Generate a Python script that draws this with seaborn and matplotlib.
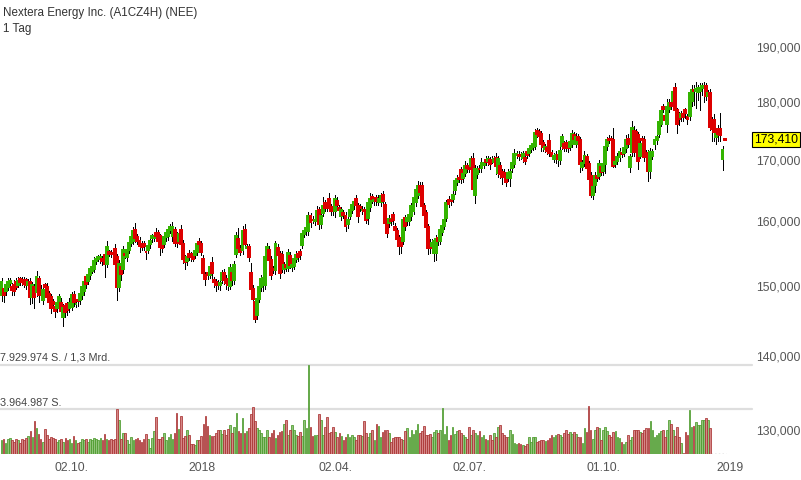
import numpy as np
import pandas as pd
import matplotlib
matplotlib.use("Agg")
import matplotlib.pyplot as plt
import matplotlib.transforms as mtransforms
from matplotlib.ticker import FixedLocator, NullLocator
import seaborn as sns

# ---------------- data ----------------
title = "Nextera Energy Inc. (A1CZ4H) (NEE)"
subtitle = "1 Tag"

opens = [
    148.6,149.6,149.2,149.8,150.4,149.9,150.1,150.6,150.2,151.0,
    150.9,150.9,150.9,150.1,150.6,148.3,149.9,149.1,151.1,149.4,
    148.0,150.1,149.9,148.8,148.3,147.7,146.9,146.8,147.7,147.5,
    145.5,147.0,147.3,146.8,146.9,148.6,147.3,148.0,147.9,148.6,
    149.2,151.3,150.8,151.6,152.3,152.6,153.8,154.1,154.1,154.1,
    154.6,153.3,155.1,154.9,155.0,155.6,154.3,149.8,152.9,152.6,
    154.9,154.4,155.5,156.6,156.9,158.6,157.4,156.9,156.4,156.4,
    155.2,155.5,156.3,157.3,157.3,158.1,158.1,157.6,156.9,156.4,
    157.4,157.6,158.6,157.6,158.6,157.6,156.9,158.5,156.4,154.1,
    153.8,154.9,154.8,154.9,154.7,155.2,156.7,156.4,154.1,151.6,
    151.9,151.7,153.5,150.9,150.6,150.5,150.1,150.9,152.0,151.1,
    150.5,150.0,151.9,150.9,154.9,157.2,155.6,155.4,158.6,155.7,
    155.9,151.9,149.6,147.6,145.8,148.1,149.9,150.1,150.1,154.6,
    155.4,153.9,152.5,152.4,155.7,154.8,154.7,152.6,153.2,152.7,
    154.5,152.9,153.0,154.1,154.8,155.1,156.2,157.9,158.4,158.4,
    160.8,160.2,160.0,160.0,161.7,159.5,161.3,162.8,162.2,163.5,
    162.2,161.8,161.5,163.2,162.0,160.8,161.2,160.8,159.5,160.8,
    161.8,162.5,163.5,162.3,162.2,161.7,161.7,161.2,160.5,162.2,
    163.8,163.1,163.6,163.0,163.0,164.2,162.5,159.9,159.6,160.2,
    160.9,159.1,158.4,157.3,157.3,156.8,160.5,159.9,159.9,160.7,
    161.6,163.0,164.1,165.7,165.7,162.3,161.2,159.0,156.6,156.1,
    155.0,155.0,157.3,156.9,158.3,159.2,160.5,163.4,163.3,163.5,
    164.9,166.3,166.9,168.2,166.9,167.8,169.0,168.7,168.9,170.1,
    164.2,167.6,168.5,168.6,169.1,170.0,169.7,169.9,170.0,169.6,
    170.2,167.8,169.0,167.9,167.8,166.8,166.9,166.9,168.6,169.3,
    170.8,170.8,170.8,170.2,170.2,171.3,171.2,171.8,172.2,172.4,
    174.9,174.8,174.3,172.8,171.8,171.9,173.2,171.2,170.1,170.1,
    170.8,170.0,172.4,172.7,172.8,172.2,172.2,172.7,174.2,172.7,
    173.8,173.3,168.8,169.4,170.4,169.2,167.3,164.2,165.8,167.3,
    167.3,168.7,168.1,169.3,172.3,173.6,173.6,173.4,169.3,169.7,
    170.4,171.1,171.1,171.9,173.6,168.8,171.3,174.9,174.7,174.2,
    170.7,173.6,173.4,171.1,171.0,168.1,170.7,172.6,173.3,174.3,
    176.2,179.05,177.6,176.2,178.8,179.9,180.2,182.5,178.5,177.6,
    177.4,177.9,178.5,177.4,177.6,180.2,182.2,182.0,181.8,182.0,
    182.5,182.5,182.8,181.1,181.6,176.75,176.75,173.9,175.3,175.3,
    170.1,173.45,
]
closes = [
    150.6,148.6,150.1,150.6,150.8,149.4,149.3,149.9,150.8,150.6,
    150.6,150.3,150.2,150.6,148.3,150.1,148.3,151.4,148.6,148.7,
    149.4,149.9,148.3,147.7,146.7,147.3,146.3,147.5,148.3,146.3,
    146.8,146.2,146.5,147.5,148.6,147.6,147.4,147.8,148.8,149.8,
    150.6,150.3,151.6,152.6,152.8,153.8,154.1,154.3,154.3,153.8,
    153.3,155.9,154.9,154.8,154.9,153.3,149.8,153.3,151.8,155.5,
    154.7,155.4,156.6,157.4,158.4,157.3,156.9,156.0,155.9,156.1,
    155.1,156.0,156.9,157.6,157.6,157.6,156.9,155.9,155.7,157.4,
    158.1,158.6,159.0,159.1,156.6,156.5,157.9,156.4,154.1,153.6,
    154.3,154.4,154.4,154.1,155.3,156.3,156.3,155.2,151.9,151.0,
    151.6,152.9,151.9,150.6,150.2,150.1,150.5,151.9,150.9,150.4,
    150.1,152.7,150.9,153.1,157.6,155.7,155.2,158.4,156.3,155.9,
    154.3,149.6,148.1,145.1,148.1,149.9,151.1,151.2,154.4,155.9,
    153.9,151.7,152.4,156.3,154.7,151.9,152.6,153.2,152.9,155.0,
    153.2,153.1,154.1,154.7,154.4,154.7,157.9,158.4,158.9,160.8,
    159.8,160.1,160.2,161.6,159.5,160.8,162.3,162.1,162.1,162.2,
    161.6,161.5,163.5,162.5,161.8,161.7,161.0,159.2,160.2,161.7,
    162.5,163.0,162.5,160.7,162.1,161.8,161.6,160.2,162.8,163.5,
    163.5,163.3,163.2,163.5,164.0,163.2,159.7,158.1,160.3,159.9,
    160.1,158.6,157.2,156.0,156.0,160.1,159.2,160.5,161.0,162.3,
    163.6,164.9,165.6,164.6,162.4,161.0,159.1,155.8,155.7,156.6,
    156.8,157.2,156.8,158.5,159.2,160.2,162.8,162.7,163.1,164.2,
    166.4,166.8,166.8,166.7,167.6,169.0,168.6,168.5,170.1,165.2,
    168.5,168.5,168.4,169.5,169.5,169.6,170.1,169.3,169.9,170.1,
    169.0,170.1,167.6,167.1,167.1,166.3,167.8,167.9,169.5,171.0,
    171.0,170.6,170.6,171.0,169.85,170.8,171.8,172.3,172.6,174.6,
    174.4,174.1,172.6,172.1,172.1,171.5,171.2,170.7,170.6,170.8,
    170.1,171.5,173.8,172.0,172.2,171.9,173.0,174.45,173.6,173.9,
    173.4,169.2,169.4,170.7,168.6,166.7,164.2,165.4,167.3,167.0,
    169.3,168.0,169.2,172.2,173.3,173.3,173.4,169.0,169.6,170.5,
    171.3,170.9,171.9,173.4,172.6,170.5,175.5,171.3,173.9,169.85,
    172.7,173.3,170.4,170.4,168.1,171.3,171.3,173.4,173.9,176.5,
    178.4,178.8,176.75,179.05,179.9,179.3,181.8,178.6,176.2,177.0,
    177.9,177.4,178.0,177.0,181.6,182.2,181.9,182.4,182.5,182.6,
    182.8,182.8,181.1,181.6,175.6,175.3,174.7,174.45,174.45,174.2,
    171.7,173.41,
]
# wick lengths above / below the candle body (price units)
wick_up = [
    .6,.5,.7,.6,.4,.5,.8,.6,.5,.4, .4,.5,.3,.5,.6,.5,.4,.8,.4,.7,
    .5,.4,.6,.5,.5,.4,.4,.6,.5,.7, .6,.5,.4,.7,.5,.6,.4,.6,.5,.6,
    .4,.5,.5,.4,.5,.5,.4,.4,.5,.4, .7,.9,.4,.5,.5,.8,.5,.6,.5,.6,
    .4,.5,.6,.5,.7,1.1,.6,.5,.5,.5, .6,.5,.5,.4,.5,.7,.5,.4,.6,.5,
    .5,.6,.5,.7,.5,.6,.5,.8,.6,.5, .5,.5,.4,.5,.4,.5,.6,.4,.6,.5,
    .5,.6,.8,.5,.5,.4,.5,.5,.6,.5, .4,.6,.5,.6,.7,1.6,.6,.8,.9,.5,
    .5,1.5,.5,.6,.6,.8,.6,.6,.7,.6, .7,.6,.5,.5,.6,.5,.6,.4,.5,.6,
    .6,.5,.5,.6,.5,.5,.6,.5,.5,.6, .5,.6,.5,.7,.5,.5,1.6,.6,.5,1.0,
    .5,.5,.6,.6,.6,.5,.5,.6,.5,.5, .5,.5,.6,.6,.5,.5,.5,.5,.6,1.0,
    .5,.5,.5,.6,.5,.6,.5,.6,.6,.5, .5,.6,.5,.5,.6,.5,.5,.5,.6,.5,
    .5,.7,.8,.6,.6,.5,.6,.5,.6,.5, .5,.6,.5,.5,.6,.5,.5,.6,.5,.6,
    .5,.6,.8,.5,.6,.7,.5,.6,.6,1.1, .6,.5,.6,.7,.5,.6,.6,.5,.6,.5,
    1.0,.5,.6,.5,.6,.5,.6,.5,.6,.8, .5,.6,.5,.5,.5,.6,.5,.5,.6,.6,
    .5,.5,.6,.5,.5,.5,1.1,.5,.5,.6, .5,.6,.6,.5,.5,.6,.5,.6,.5,.6,
    .5,.5,.6,.7,.5,.6,.6,.5,.6,.5, .6,.5,.6,.8,.5,.6,.5,2.0,.5,.6,
    .6,.5,.6,.8,.7,.5,1.1,.9,.6,.5, .6,.5,.6,.5,.6,.6,.5,.6,.5,.6,
    .7,.6,.5,1.5,.6,.5,.8,1.0,.5,.6, .5,.6,.5,.5,.6,.9,.8,1.2,.6,.8,
    .6,.8,.6,.6,.8,.6,1.2,.7,.6,2.7, .6,0.0,
]
wick_dn = [
    .8,.9,.5,.4,.5,.7,.6,.4,.3,.5, .4,.5,.6,.5,.9,.8,1.6,.6,.9,.8,
    .6,.5,.6,.7,.6,.5,.9,.6,.5,.8, 1.3,.7,.8,.6,.5,.5,.4,.7,.6,.5,
    .6,.6,.5,.6,.4,.5,.5,.4,.6,.6, 1.9,.5,.4,.5,.6,.5,1.8,.6,.9,.6,
    .5,.6,.5,.6,.5,.6,.5,.8,.5,.6, 1.1,.5,.5,.6,.5,.6,.7,1.3,.6,.5,
    .5,.6,.5,.8,.6,.6,.5,.8,.7,1.0, .6,.5,.6,.4,.5,.6,.5,.6,.8,.9,
    .6,.5,.7,.8,1.0,.6,.7,.5,.6,.9, .7,.5,.8,.6,.5,.5,.6,.5,.6,.5,
    .6,.6,.7,.4,.6,.5,.6,.8,.6,.7, .6,.6,.5,.6,.5,.7,.5,.6,.7,.5,
    .5,.6,.5,.5,.6,.6,.5,.5,.6,.6, .7,.5,.6,.5,.8,.6,.5,.6,.5,.6,
    .6,.5,.9,.6,.5,.7,.6,.8,.6,.5, .5,.6,.6,.9,.5,.6,.5,.6,1.0,.6,
    .6,.5,.6,.5,.6,.5,.6,.7,.5,.6, .6,.6,.5,1.1,1.0,.5,.7,.6,.5,.6,
    .5,.6,.5,.6,.7,.6,.5,1.0,.7,.6, 1.2,1.1,.6,.5,.6,.5,.6,.5,.6,.5,
    .6,.5,.5,.6,.7,.5,.6,.5,.5,.5, 1.4,.6,.5,.6,.5,.5,.6,.8,.5,.6,
    1.4,.7,.6,1.2,.6,.6,.5,1.2,.6,.5, .5,.6,.5,.6,.5,.5,.6,.5,.5,.6,
    .6,.5,1.1,.6,.5,.6,.6,.6,.5,.6, 1.2,.8,.6,.6,.8,.6,.5,.6,.6,.5,
    .6,1.3,.6,.5,.8,.8,.4,.7,1.2,.6, .6,.6,.6,1.6,.6,.5,.5,.3,.6,.5,
    .6,.5,.5,.6,.5,.8,.6,.6,.5,1.4, .5,.6,.6,.6,1.7,1.2,.6,.8,.6,.5,
    .5,.6,.6,1.4,.5,.5,.6,.5,1.7,1.1, .8,.8,.9,.9,.8,1.0,2.5,3.0,1.5,3.5,
    1.2,2.5,.8,1.4,.6,2.2,1.5,1.2,1.2,1.0, 1.9,0.0,
]
# volume in millions of shares (available for the first candles only)
volume_m = [
    1.2,1.3,1.0,1.3,1.4,1.2,1.1,1.3,1.2,1.0, 1.3,1.2,1.4,1.6,2.0,1.5,2.9,2.3,1.8,1.3,
    1.1,2.2,1.7,1.3,1.5,1.4,1.3,1.1,1.2,1.3, 1.1,1.4,1.2,1.3,1.0,1.6,1.2,1.0,1.1,1.3,
    1.2,1.3,1.1,1.3,1.2,1.4,1.3,1.2,1.4,1.2, 1.8,1.3,1.2,1.3,1.2,1.3,4.0,3.0,1.3,1.9,
    1.9,1.2,0.9,1.5,1.2,1.3,1.4,1.2,1.1,1.3, 1.8,1.3,0.5,1.4,2.0,3.3,1.3,1.3,1.5,1.9,
    1.2,1.5,1.8,1.3,1.9,3.6,2.2,3.4,1.4,1.6, 2.1,1.7,0.9,0.9,0.8,1.2,1.2,1.6,2.7,3.4,
    2.5,1.7,1.6,1.6,1.9,2.1,2.1,1.8,2.1,1.7, 2.2,2.6,1.9,2.4,3.6,2.0,1.9,3.2,1.9,2.0,
    2.3,3.5,4.2,2.9,2.3,
    2.11,1.82,1.53,1.53,2.11,1.53,1.82,2.11,1.38,1.67, 1.97,2.06,2.70,3.05,1.67,2.11,2.56,2.11,1.67,1.59,
    1.97,1.59,3.00,2.26,7.929974,2.35,1.59,1.67,1.67,3.52, 3.05,1.67,2.35,3.29,1.88,1.97,2.35,1.97,1.53,1.82,
    1.59,1.23,1.53,1.76,1.53,1.67,1.53,1.23,1.67,1.67, 1.59,2.91,1.82,1.53,1.82,2.11,1.23,2.64,2.47,1.47,
    1.97,2.17,2.17,1.88,1.09,1.38,1.47,1.47,1.47,1.29, 1.23,2.06,2.26,1.53,2.11,1.76,2.17,2.64,1.88,2.06,
    2.47,1.67,1.67,1.76,1.53,1.97,2.11,1.82,2.17,4.11, 1.76,2.47,1.23,1.67,2.35,1.76,2.06,2.17,1.88,1.67,
    1.47,1.29,2.35,1.67,2.17,1.82,1.67,2.06,1.53,1.67, 1.29,1.23,1.67,1.23,1.82,1.53,2.35,2.61,1.88,1.67,
    1.53,1.47,2.11,1.76,1.00,0.88,0.94,
    0.88,0.79,0.70,0.88,
    1.53,1.09,1.53,1.53,1.09,1.17,1.23,1.23,1.17,1.23, 1.38,1.67,1.47,1.67,1.76,1.67,1.53,1.88,2.17,1.76,
    1.97,1.76,1.97,1.76,1.53,1.47,1.00,2.26,1.97,4.23, 2.17,1.29,2.11,2.35,2.26,1.23,2.17,2.35,2.06,1.67,
    1.47,1.97,2.06,1.53,1.38,1.09,0.88,1.09,1.67,1.23, 1.47,2.17,2.11,2.11,1.97,1.82,2.17,2.26,2.26,2.94,
    2.17,1.53,1.67,1.82,2.06,2.11,1.53,2.11,3.05,2.70, 2.17,1.59,2.35,1.53,1.00,0.06,1.97,1.67,3.94,
    2.35,2.47,2.85,2.56,2.56,3.00,3.00,3.23,3.00,2.26,
]
vol_max_label = "7.929.974 S. / 1,3 Mrd."
vol_half_label = "3.964.987 S."
vol_grid = [3.964987, 7.929974]
price_ticks = [130, 140, 150, 160, 170, 180, 190]
x_tick_labels = ["02.10.", "2018", "02.04.", "02.07.", "01.10.", "2019"]
x_tick_pos = [34.1, 97.2, 161.9, 227.4, 292.2, 353.7]
last_price = 173.41

# ---------------- frame ----------------
n = len(opens)
idx = np.arange(n)
df = pd.DataFrame({"i": idx, "open": opens, "close": closes,
                   "up": wick_up, "dn": wick_dn})
df["high"] = df[["open", "close"]].max(axis=1) + df["up"]
df["low"] = df[["open", "close"]].min(axis=1) - df["dn"]
df["dir"] = np.where(df["close"] >= df["open"], "up", "down")

vdf = pd.DataFrame({"i": idx[:len(volume_m)], "vol": volume_m,
                    "dir": df["dir"].values[:len(volume_m)]})

# ---------------- style ----------------
sns.set_theme(style="white")
plt.rcParams["font.family"] = ["Liberation Sans", "DejaVu Sans"]

W, H = 801, 480
fig = plt.figure(figsize=(W / 100, H / 100), dpi=100)
fig.patch.set_facecolor("white")

PX0, PXW = 0.0, 745.0          # axes left / width in px
step = 2.06                    # px per candle
first = 1.5                    # px of first candle
xlo = (PX0 - first) / step
xhi = (PX0 + PXW - first) / step

top_px, bot_px = 30.0, 455.0
ax = fig.add_axes([PX0 / W, 1 - bot_px / H, PXW / W, (bot_px - top_px) / H])
ax.set_facecolor("none")
k = 1009.0
p_hi = 180 * np.exp((102 - top_px) / k)
p_lo = 180 * np.exp((102 - bot_px) / k)

GREEN = "#33b400"
RED = "#dd0000"
colors = np.where(df["dir"] == "up", GREEN, RED)

ax.vlines(df["i"], df["low"], df["high"], colors="black", linewidth=0.6,
          zorder=1, antialiased=False)
body_lo = df[["open", "close"]].min(axis=1)
body_h = (df["close"] - df["open"]).abs()
ax.bar(df["i"], body_h, bottom=body_lo, width=0.95, color=colors,
       edgecolor=colors, linewidth=0.3, zorder=2, antialiased=False)

ax.set_yscale("log")
ax.set_ylim(p_lo, p_hi)
ax.set_xlim(xlo, xhi)
ax.yaxis.set_major_locator(FixedLocator(price_ticks))
ax.yaxis.set_minor_locator(NullLocator())
ax.set_yticklabels([f"{v},000" for v in price_ticks])
ax.yaxis.tick_right()
ax.tick_params(axis="y", length=0, pad=8, labelsize=8.8, labelcolor="#555555")
ax.set_xticks(x_tick_pos)
ax.set_xticklabels(x_tick_labels)
ax.xaxis.set_minor_locator(NullLocator())
ax.tick_params(axis="x", length=0, pad=5, labelsize=8.8, labelcolor="#555555")
for s in ax.spines.values():
    s.set_visible(False)
ax.grid(False)

# ---------------- volume ----------------
vtop, vbot = 364.5, 454.0
ax2 = fig.add_axes([PX0 / W, 1 - vbot / H, PXW / W, (vbot - vtop) / H])
ax2.set_facecolor("none")
for g in vol_grid:
    ax2.axhline(g, xmin=0, xmax=752 / PXW, color="#dedede", linewidth=1.6,
                clip_on=False, zorder=0)
sns.barplot(data=vdf, x="i", y="vol", hue="dir",
            palette={"up": "#8ccf6e", "down": "#e27a7a"},
            native_scale=True, dodge=False, legend=False, errorbar=None,
            width=0.8, ax=ax2, zorder=2)
for p in ax2.patches:
    fc = p.get_facecolor()
    p.set_edgecolor("#4a9a2a" if fc[1] > fc[0] else "#a83232")
    p.set_linewidth(0.55)
ax2.plot([len(volume_m) - 0.4, n - 0.4], [0, 0], linestyle=":", color="#999999",
         linewidth=1.0)
ax2.set_xlim(xlo, xhi)
ax2.set_ylim(0, vol_grid[1])
ax2.set_xticks([])
ax2.set_yticks([])
ax2.set_xlabel("")
ax2.set_ylabel("")
for s in ax2.spines.values():
    s.set_visible(False)

fig.text(0.5 / W, 1 - 357 / H, vol_max_label, ha="left", va="center",
         fontsize=7.8, color="#444444")
fig.text(0.5 / W, 1 - 403 / H, vol_half_label, ha="left", va="center",
         fontsize=7.8, color="#444444")

# ---------------- titles ----------------
fig.text(3 / W, 1 - 13 / H, title, ha="left", va="center", fontsize=8.4, color="#333333")
fig.text(3 / W, 1 - 29 / H, subtitle, ha="left", va="center", fontsize=8.4, color="#333333")

# ---------------- last price box ----------------
tr = mtransforms.blended_transform_factory(fig.transFigure, ax.transData)
ax.text(776 / W, last_price, f"{last_price:.3f}".replace(".", ","), transform=tr,
        ha="center", va="center", fontsize=8.8, color="black",
        bbox=dict(boxstyle="square,pad=0.15", facecolor="#ffff00",
                  edgecolor="black", linewidth=0.8), clip_on=False, zorder=5)

fig.savefig("out.png", dpi=100, facecolor="white")
